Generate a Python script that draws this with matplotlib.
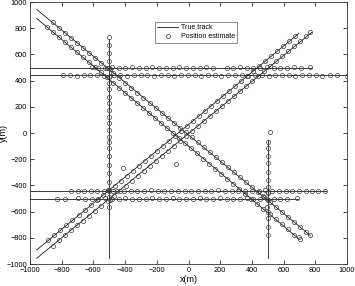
#!/usr/bin/env python3
# Multi target tracking: true tracks and position estimates

import matplotlib
matplotlib.use('Agg')
import matplotlib.pyplot as plt
from matplotlib.lines import Line2D

# ------------------------------------
# True tracks (start and end points, metres)
# ------------------------------------
track_names = ['A', 'B', 'C', 'D', 'E', 'F', 'G1', 'G2', 'H1', 'H2']
track_x = [[-1000, 780], [-1000, 1000], [-1000, 870], [-1000, 690],
           [-500, -500], [500, 500],
           [-958, 767], [-958, 697], [-958, 697], [-958, 777]]
track_y = [[500, 500], [440, 440], [-440, -440], [-500, -500],
           [720, -955], [-50, -955],
           [944, -781], [875, -809], [-893, 761], [-957, 768]]

# ------------------------------------
# Position estimates
# ------------------------------------
est_A_x = [-610, -568, -525, -497, -482, -440, -398, -355, -312, -270, -228, -185, -142, -100, -57, -15,
           28, 70, 113, 155, 240, 283, 325, 368, 410, 453, 495, 538, 580, 623, 665, 708, 765]
est_A_y = [502, 498, 500, 490, 503, 500, 497, 501, 500, 499, 502, 500, 498, 500, 501, 500,
           499, 500, 502, 500, 498, 500, 501, 500, 497, 500, 503, 500, 499, 500, 501, 500, 502]

est_B_x = [-790, -748, -705, -662, -620, -577, -535, -503, -470, -430, -388, -345, -302, -260, -218,
           -175, -132, -90, -48, -5, 38, 80, 122, 165, 208, 250, 292, 335, 378, 420, 462, 505,
           548, 590, 632, 675, 718, 760, 802, 845, 893, 935, 998]
est_B_y = [440, 442, 439, 440, 441, 440, 438, 430, 442, 440, 439, 441, 440, 440, 438, 441, 440,
           439, 440, 442, 440, 439, 441, 440, 438, 440, 441, 440, 439, 440, 442, 438, 440, 441,
           440, 439, 440, 441, 440, 439, 440, 441, 437]

est_C_x = [-743, -700, -660, -618, -575, -532, -502, -478, -450, -408, -365, -322, -280, -238, -195,
           -152, -110, -68, -25, 18, 60, 102, 145, 188, 230, 272, 315, 358, 400, 442, 485, 503,
           528, 570, 612, 655, 698, 740, 782, 820, 861]
est_C_y = [-440, -441, -439, -440, -442, -440, -432, -445, -440, -439, -441, -440, -440, -438,
           -441, -440, -439, -440, -442, -440, -439, -441, -440, -438, -440, -441, -440, -439,
           -440, -442, -438, -450, -440, -441, -440, -439, -440, -441, -440, -439, -441]

est_D_x = [-832, -779, -695, -652, -610, -568, -525, -500, -482, -440, -398, -355, -312, -270, -228,
           -185, -142, -100, -58, -15, 28, 70, 112, 155, 198, 240, 282, 325, 368, 410, 452, 470,
           495, 538, 580, 622, 683]
est_D_y = [-500, -501, -499, -500, -502, -500, -498, -490, -501, -500, -499, -501, -500, -500,
           -498, -501, -500, -499, -500, -502, -500, -499, -501, -500, -498, -500, -501, -500,
           -499, -500, -502, -480, -505, -500, -501, -500, -499]

est_E_x = [-501, -500, -499, -500, -503, -498, -500, -501, -500, -499, -500, -501, -500, -499,
           -500, -501, -500, -499, -500, -501, -500, -505, -497, -500]
est_E_y = [735, 672, 608, 552, 494, 435, 379, 333, 277, 226, 176, 124, 74, 23, -28, -72, -118,
           -176, -244, -308, -372, -435, -511, -563]

est_F_x = [514, 501, 500, 499, 500, 501, 500, 499, 500, 503, 498, 500, 501, 500, 499]
est_F_y = [8, -66, -117, -176, -231, -295, -359, -410, -460, -511, -562, -600, -651, -715, -779]

est_G1_x = [-853, -815, -777, -740, -702, -664, -626, -588, -550, -512, -474, -436, -398, -360,
            -322, -284, -246, -208, -170, -132, -94, -56, -18, 20, 58, 96, 134, 172, 210, 248,
            286, 324, 362, 400, 438, 476, 514, 552, 590, 628, 666, 704, 742, 767]
est_G1_y = [845, 801, 763, 726, 688, 650, 612, 574, 536, 498, 460, 422, 384, 346, 308, 270,
            232, 194, 156, 118, 80, 42, 4, -34, -72, -110, -148, -186, -224, -262, -300, -338,
            -376, -414, -452, -490, -528, -566, -604, -642, -680, -718, -756, -781]

est_G2_x = [-895, -857, -819, -781, -743, -705, -667, -629, -591, -553, -515, -477, -439, -401,
            -363, -325, -287, -249, -211, -173, -135, -97, -59, -21, 17, 55, 93, 131, 169, 207,
            245, 283, 321, 359, 397, 435, 473, 511, 549, 587, 625, 663, 697, 703]
est_G2_y = [811, 772, 733, 695, 656, 617, 579, 540, 501, 463, 424, 385, 347, 308, 269, 231, 192,
            153, 115, 76, 37, -2, -40, -79, -118, -156, -195, -234, -272, -311, -350, -388, -427,
            -466, -504, -543, -582, -620, -659, -698, -736, -775, -792, -812]

est_H1_x = [-884, -846, -808, -770, -732, -694, -656, -618, -580, -542, -504, -466, -428, -390,
            -352, -314, -276, -238, -200, -162, -124, -86, -48, -10, 28, 66, 104, 142, 180, 218,
            256, 294, 332, 370, 408, 446, 484, 522, 560, 598, 636, 674]
est_H1_y = [-819, -781, -743, -705, -667, -629, -591, -553, -515, -477, -439, -401, -363, -325,
            -287, -249, -211, -173, -135, -97, -59, -21, 17, 55, 93, 131, 169, 207, 245, 283, 321,
            359, 397, 435, 473, 511, 549, 587, 625, 663, 701, 739]

est_H2_x = [-853, -815, -777, -739, -701, -663, -625, -587, -549, -511, -473, -435, -397, -359,
            -321, -283, -245, -207, -169, -131, -93, -55, -17, 21, 59, 97, 135, 173, 211, 249,
            287, 325, 363, 401, 439, 477, 515, 553, 591, 629, 667, 705, 743, 767]
est_H2_y = [-863, -820, -782, -744, -706, -668, -630, -592, -554, -516, -478, -440, -402, -364,
            -326, -288, -250, -212, -174, -136, -98, -60, -22, 16, 54, 92, 130, 168, 206, 244,
            282, 320, 358, 396, 434, 472, 510, 548, 586, 624, 662, 700, 738, 768]

# stray estimates (clutter)
stray_x = [-413, -79]
stray_y = [-267, -237]

ticks = [-1000, -800, -600, -400, -200, 0, 200, 400, 600, 800, 1000]


def main():

    plt.rcParams['font.family'] = ['Liberation Sans', 'DejaVu Sans']

    fig = plt.figure(figsize=(3.55, 2.86), dpi=100)
    ax = fig.add_axes([0.0845, 0.0769, 0.893, 0.916])

    # true tracks
    for xs, ys in zip(track_x, track_y):
        ax.plot(xs, ys, '-', color='#1a1a1a', linewidth=0.6)

    # estimates
    est_x = [est_A_x, est_B_x, est_C_x, est_D_x, est_E_x, est_F_x,
             est_G1_x, est_G2_x, est_H1_x, est_H2_x, stray_x]
    est_y = [est_A_y, est_B_y, est_C_y, est_D_y, est_E_y, est_F_y,
             est_G1_y, est_G2_y, est_H1_y, est_H2_y, stray_y]
    for xs, ys in zip(est_x, est_y):
        ax.plot(xs, ys, 'o', markerfacecolor='none', markeredgecolor='#3a3a3a',
                markersize=3.0, markeredgewidth=0.5, linestyle='none')

    ax.set_xlim(-1000, 1000)
    ax.set_ylim(-1000, 1000)
    ax.set_xticks(ticks)
    ax.set_yticks(ticks)
    ax.tick_params(direction='in', length=3, width=0.5, labelsize=5.3,
                   top=True, right=True, pad=2)
    for spine in ax.spines.values():
        spine.set_linewidth(0.6)
        spine.set_color('#333333')

    ax.set_xlabel('x(m)', fontsize=6.5, labelpad=1)
    ax.set_ylabel('y(m)', fontsize=6.5)
    ax.yaxis.set_label_coords(-0.068, 0.5)

    handles = [Line2D([], [], color='#1a1a1a', linewidth=0.6),
               Line2D([], [], marker='o', linestyle='none', markerfacecolor='none',
                      markeredgecolor='#3a3a3a', markersize=3.0, markeredgewidth=0.5)]
    leg = ax.legend(handles, ['True track', 'Position estimate'], loc='upper left',
                    bbox_to_anchor=(0.394, 0.924), fontsize=5, numpoints=1,
                    frameon=True, fancybox=False, borderpad=0.35, handlelength=3.0,
                    handletextpad=0.4, labelspacing=0.3, borderaxespad=0)
    leg.get_frame().set_edgecolor('#333333')
    leg.get_frame().set_linewidth(0.5)

    fig.savefig('out.png', dpi=100)


if __name__ == '__main__':
    main()
